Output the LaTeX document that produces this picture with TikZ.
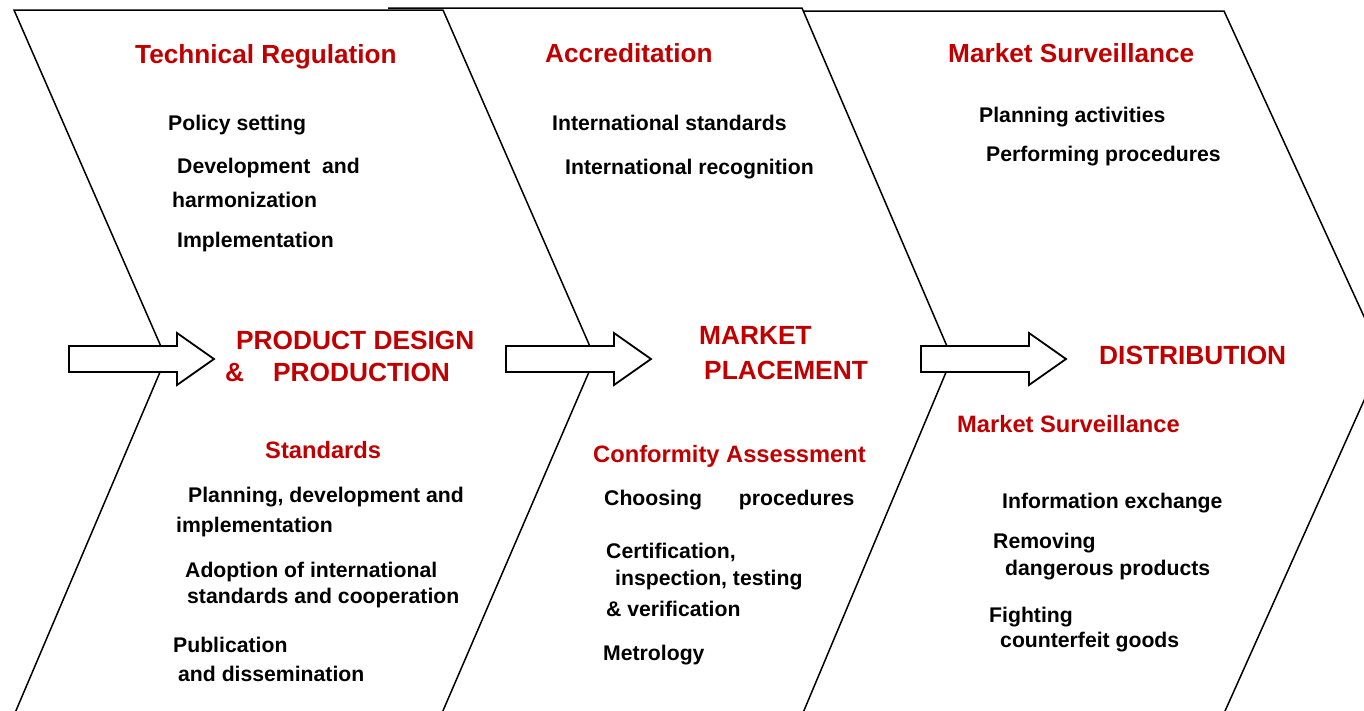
\documentclass[tikz,border=0pt]{standalone}
\usepackage{fontspec}
\setmainfont{Liberation Sans}
\usepackage{xcolor}
\usepackage{tikz}

\definecolor{headred}{HTML}{C00000}

\tikzset{
    stage/.style={draw=black, line width=1.5pt, line join=miter},
    blockarrow/.style={draw=black, fill=white, line width=1.8pt, line join=miter},
    entry/.style={anchor=base west, inner sep=0pt, font=\bfseries\fontsize{21.2}{25}\selectfont},
    subhead/.style={entry, text=headred, font=\bfseries\fontsize{23.7}{28}\selectfont},
    tophead/.style={entry, text=headred, font=\bfseries\fontsize{26.2}{30}\selectfont},
    stagename/.style={entry, text=headred, font=\bfseries\fontsize{26.3}{30}\selectfont}
}

\begin{document}
\begin{tikzpicture}[x=1pt, y=-1pt]
    \useasboundingbox (0,0) rectangle (1364,710);

    % Chevrons (open at the bottom, last one runs off the right side)
    \begin{scope}
        \clip (0,0) rectangle (1364,710);
        \draw[stage] (12,720) -- (166,358) -- (14,10) -- (443,10) -- (595,358) -- (439,720);
        \draw[stage] (388,8) -- (802,8) -- (952,358) -- (800,720);
        \draw[stage] (804,11) -- (1224,11) -- (1383,358) -- (1221,720);
    \end{scope}

    % Block arrows
    \foreach \x in {69,506,921}
        \draw[blockarrow] (\x,346) -- ++(108,0) -- ++(0,-13) -- ++(37,26) -- ++(-37,26) -- ++(0,-13) -- ++(-108,0) -- cycle;

    % Product design & production
    \node[tophead] (techreg) at (135,63) {Technical Regulation};
    \node[entry] (policy) at (168,130) {Policy setting};
    \node[entry] (develop) at (177,173) {Development\ \ and};
    \node[entry] (harmon) at (172,207) {harmonization};
    \node[entry] (implement) at (177,247) {Implementation};
    \node[stagename] (design) at (236,349) {PRODUCT DESIGN};
    \node[stagename] (production) at (225,381) {\&\hspace{29pt}PRODUCTION};
    \node[subhead] (standards) at (265,458) {Standards};
    \node[entry] (planning) at (188,502) {Planning, development and};
    \node[entry] (implementB) at (176,532) {implementation};
    \node[entry] (adoption) at (185,577) {Adoption of international};
    \node[entry] (cooperation) at (187,603) {standards and cooperation};
    \node[entry] (publication) at (173,652) {Publication};
    \node[entry] (dissemination) at (178,681) {and dissemination};

    % Market placement
    \node[tophead] (accred) at (545,62) {Accreditation};
    \node[entry] (intstd) at (552,130) {International standards};
    \node[entry] (intrec) at (565,174) {International recognition};
    \node[stagename] (market) at (699,344) {MARKET};
    \node[stagename] (placement) at (704,379) {PLACEMENT};
    \node[subhead] (conformity) at (593,462) {Conformity Assessment};
    \node[entry] (choosing) at (604,505) {Choosing\hspace{37pt}procedures};
    \node[entry] (certif) at (606,558) {Certification,};
    \node[entry] (inspection) at (615,585) {inspection, testing};
    \node[entry] (verif) at (606,616) {\& verification};
    \node[entry] (metrology) at (603,660) {Metrology};

    % Distribution
    \node[tophead] (survtop) at (948,62) {Market Surveillance};
    \node[entry] (planact) at (979,122) {Planning activities};
    \node[entry] (perform) at (986,161) {Performing procedures};
    \node[stagename] (distrib) at (1099,364) {DISTRIBUTION};
    \node[subhead] (survlow) at (957,432) {Market Surveillance};
    \node[entry] (info) at (1002,508) {Information exchange};
    \node[entry] (removing) at (993,548) {Removing};
    \node[entry] (dangerous) at (1005,575) {dangerous products};
    \node[entry] (fighting) at (989,622) {Fighting};
    \node[entry] (counterfeit) at (1000,647) {counterfeit goods};
\end{tikzpicture}
\end{document}
